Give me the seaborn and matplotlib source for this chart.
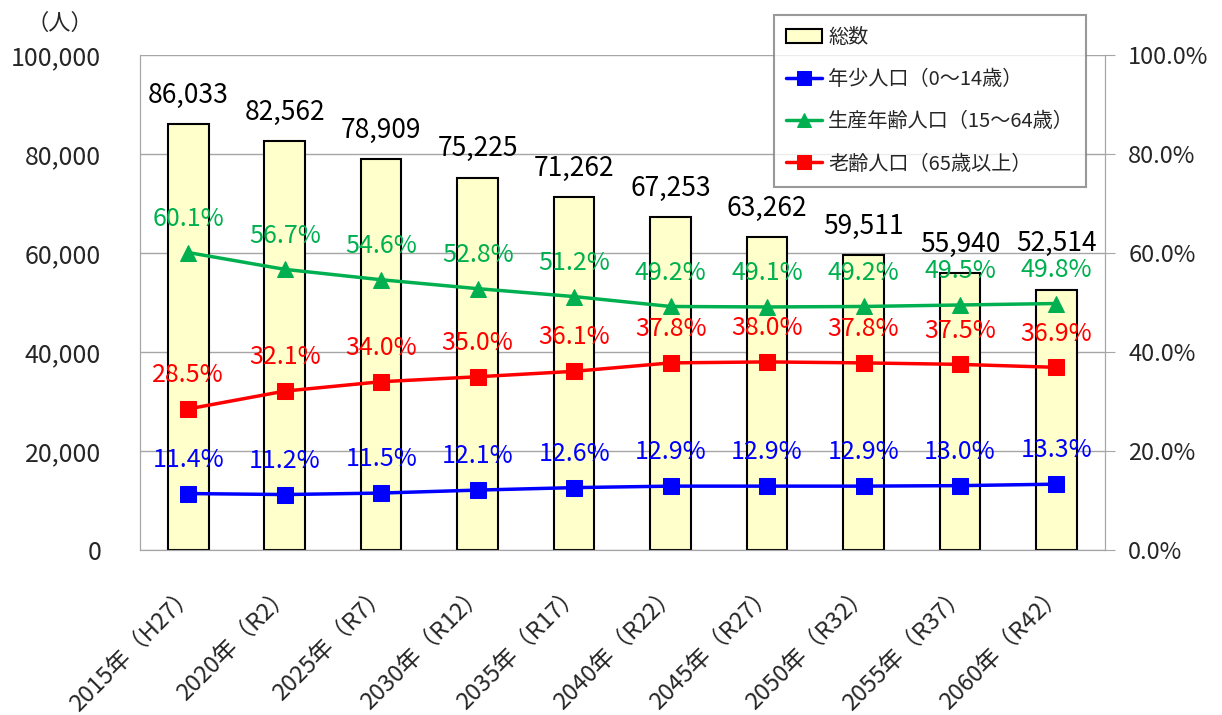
import numpy as np
import pandas as pd
import matplotlib.pyplot as plt
import matplotlib.transforms as mtransforms
from matplotlib.ticker import FuncFormatter, MultipleLocator
import seaborn as sns

# data
years = ['2015年（H27）', '2020年（R2）', '2025年（R7）', '2030年（R12）', '2035年（R17）',
         '2040年（R22）', '2045年（R27）', '2050年（R32）', '2055年（R37）', '2060年（R42）']
total = [86033, 82562, 78909, 75225, 71262, 67253, 63262, 59511, 55940, 52514]
young = [11.4, 11.2, 11.5, 12.1, 12.6, 12.9, 12.9, 12.9, 13.0, 13.3]
working = [60.1, 56.7, 54.6, 52.8, 51.2, 49.2, 49.1, 49.2, 49.5, 49.8]
old = [28.5, 32.1, 34.0, 35.0, 36.1, 37.8, 38.0, 37.8, 37.5, 36.9]

df = pd.DataFrame({'year': years, 'total': total, 'young': young,
                   'working': working, 'old': old})
df['pos'] = np.arange(len(df))

sns.set_style('white')
plt.rcParams['font.family'] = ['Noto Sans CJK JP', 'DejaVu Sans']

fig = plt.figure(figsize=(12.22, 7.15), dpi=100)
ax = fig.add_axes([0.1146, 0.2308, 0.7894, 0.6922])

# total population bars
sns.barplot(data=df, x='year', y='total', color='#FFFFCC', edgecolor='black',
            linewidth=1.5, width=0.42, saturation=1, ax=ax, zorder=2)
ax.set_ylim(0, 100000)
ax.set_xlim(-0.5, len(df) - 0.5)
ax.yaxis.set_major_locator(MultipleLocator(20000))
ax.yaxis.set_major_formatter(FuncFormatter(lambda v, p: f'{int(v):,}'))
ax.grid(axis='y', color='#A6A6A6', linewidth=1, zorder=0)
ax.set_axisbelow(True)
ax.set_xlabel('')
ax.set_ylabel('')
ax.tick_params(axis='y', labelsize=18, length=0, pad=28)
ax.tick_params(axis='x', labelsize=17, length=0, pad=0)
ax.spines['top'].set_visible(False)
for s in ['left', 'right', 'bottom']:
    ax.spines[s].set_color('#A6A6A6')

offset = mtransforms.ScaledTranslation(0.03, -0.40, fig.dpi_scale_trans)
for lab in ax.get_xticklabels():
    lab.set_rotation(45)
    lab.set_ha('right')
    lab.set_rotation_mode('anchor')
    lab.set_va('center')
    lab.set_transform(lab.get_transform() + offset)

# last label sits higher in the original
lift = [0, 0, 0, 0, 0, 0, 0, 0, 0, 13]
for i, v in enumerate(total):
    ax.annotate(f'{v:,}', (i, v), xytext=(0, 11 + lift[i]), textcoords='offset points',
                ha='center', va='bottom', fontsize=19, color='black')

fig.text(60 / 1222, 1 - 23 / 715, '（人）', ha='center', va='center', fontsize=16)

# share lines on the right axis
ax2 = ax.twinx()
series = [('young', '#0000FF', 's', '年少人口（0～14歳）'),
          ('working', '#00B050', '^', '生産年齢人口（15～64歳）'),
          ('old', '#FF0000', 's', '老齢人口（65歳以上）')]
for col, c, m, name in series:
    sns.lineplot(data=df, x='pos', y=col, color=c, marker=m, markersize=11,
                 markeredgecolor=c, linewidth=2.5, ax=ax2, label=name, zorder=3)
    for i, v in enumerate(df[col]):
        ax2.annotate(f'{v:.1f}%', (i, v), xytext=(0, 15), textcoords='offset points',
                     ha='center', va='bottom', fontsize=18, color=c)

ax2.set_ylim(0, 100)
ax2.yaxis.set_major_locator(MultipleLocator(20))
ax2.yaxis.set_major_formatter(FuncFormatter(lambda v, p: f'{v:.1f}%'))
ax2.set_ylabel('')
ax2.set_xlabel('')
ax2.tick_params(axis='y', labelsize=17, direction='out', length=7, color='#A6A6A6', pad=10)
ax2.spines['top'].set_visible(False)
for s in ['left', 'right', 'bottom']:
    ax2.spines[s].set_color('#A6A6A6')

handles, labels = ax2.get_legend_handles_labels()
bar_handle = plt.Rectangle((0, 0), 1, 1, facecolor='#FFFFCC', edgecolor='black', linewidth=1.5)
if ax2.get_legend():
    ax2.get_legend().remove()
leg = fig.legend([bar_handle] + handles, ['総数'] + labels,
                 loc='upper left', bbox_to_anchor=(774 / 1222, 1 - 15 / 715),
                 borderaxespad=0, fontsize=14.5, frameon=True, fancybox=False,
                 edgecolor='#808080', labelspacing=1.05, handlelength=1.8,
                 handletextpad=0.3, borderpad=0.6, markerscale=0.9)
leg.get_frame().set_linewidth(1.5)
leg.set_zorder(10)

plt.savefig('out.png', dpi=100)
